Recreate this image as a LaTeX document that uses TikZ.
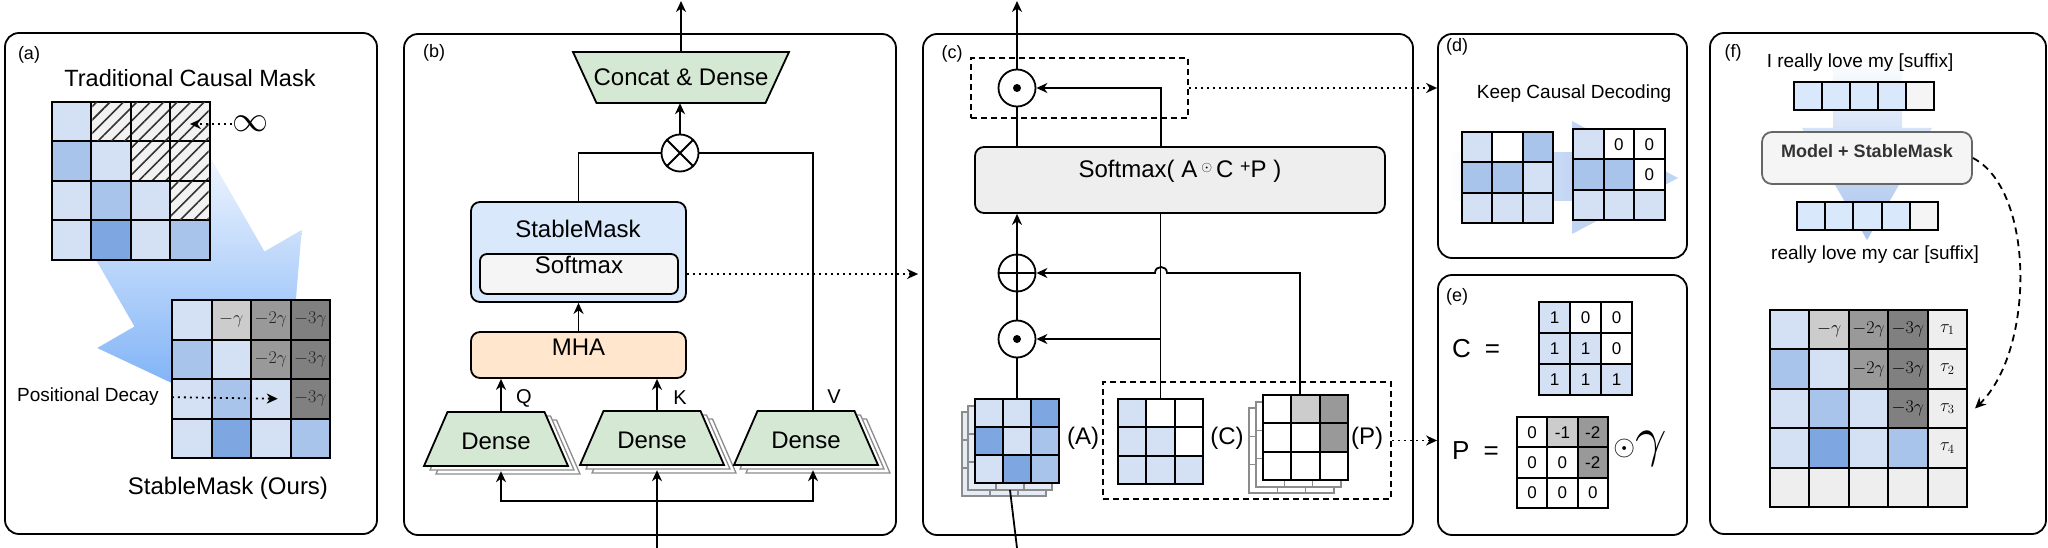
\RequirePackage{fix-cm}
\documentclass[tikz,border=0pt]{standalone}
\usepackage[no-math]{fontspec}
\setmainfont{Liberation Sans}
\usetikzlibrary{arrows.meta,shapes.geometric,fit,patterns.meta,calc}

\definecolor{lbc}{HTML}{D4E1F5}
\definecolor{mbc}{HTML}{A9C4EB}
\definecolor{dbc}{HTML}{7EA6E0}
\definecolor{gaa}{HTML}{CCCCCC}
\definecolor{gbb}{HTML}{999999}
\definecolor{gcc}{HTML}{808080}
\definecolor{lgc}{HTML}{EEEEEE}
\definecolor{tokc}{HTML}{DAE8FC}
\definecolor{tokg}{HTML}{F5F5F5}
\definecolor{grc}{HTML}{D5E8D4}
\definecolor{orc}{HTML}{FFE6CC}
\definecolor{smc}{HTML}{DAE8FC}
\definecolor{sfc}{HTML}{F5F5F5}
\definecolor{sxc}{HTML}{EEEEEE}
\definecolor{hbg}{HTML}{F2F2F2}
\definecolor{hln}{HTML}{333333}
\definecolor{arrA}{RGB}{105,165,245}
\definecolor{arrD}{RGB}{192,212,243}
\definecolor{arrFa}{RGB}{214,227,247}
\definecolor{arrFb}{RGB}{170,196,236}
\definecolor{shgc}{HTML}{8C8C8C}
\definecolor{shfc}{HTML}{E6ECF6}

\newcommand\fsz[1]{\fontsize{#1}{#1}\selectfont}
\newcommand\cellgrid[6][cellbox]{%
  \foreach \ri/\ci/\fc/\tx in {#6}{%
    \node[#1, minimum width=#5pt, minimum height=#5pt, fill=\fc] (#2-\ri-\ci) at ({#3+(\ci+0.5)*#5},{#4+(\ri+0.5)*#5}) {\tx};
  }}
% trapezoid outline: #1 style, #2 cx, #3 cy, #4 bottom width, #5 top width, #6 height
\newcommand\trapz[6]{%
  \path[#1] ({#2-#4/2},{#3+#6/2}) -- ({#2-#5/2},{#3-#6/2}) -- ({#2+#5/2},{#3-#6/2}) -- ({#2+#4/2},{#3+#6/2}) -- cycle;}

\tikzset{
  cellbox/.style={draw, line width=2pt, inner sep=0, outer sep=0, font=\fsz{18}},
  shcell/.style={draw=shgc, line width=1.3pt, inner sep=0, outer sep=0},
  panel/.style={draw, line width=1.8pt, rounded corners=14pt, inner sep=0},
  conn/.style={line width=1.8pt},
  arr/.style={conn, -{Stealth[length=11pt,width=10pt,inset=3.5pt]}},
  dotarr/.style={line width=1.8pt, dash pattern=on 2pt off 4pt, -{Stealth[length=11pt,width=10pt,inset=3.5pt]}},
  dasharr/.style={line width=1.8pt, dash pattern=on 7pt off 5pt, -{Stealth[length=11pt,width=10pt,inset=3.5pt]}},
  dbox/.style={draw, line width=1.6pt, dash pattern=on 6pt off 4pt, inner sep=0},
  rbox/.style={draw, line width=1.8pt, rounded corners=9pt, inner sep=0, font=\fsz{24}},
  lbl/.style={inner sep=0, font=\fsz{24}},
  plabel/.style={inner sep=0, font=\fsz{18}},
  opc/.style={circle, draw, line width=1.8pt, minimum size=37pt, inner sep=0, fill=white},
  trapst/.style={draw, line width=1.8pt, fill=grc, line join=miter},
  trapsh/.style={draw=shgc, line width=1.3pt, fill=white},
  densel/.style={lbl, minimum width=144pt, minimum height=54pt},
}

\begin{document}
\begin{tikzpicture}[x=1pt,y=-1pt]
\useasboundingbox (0,0) rectangle (2048,548);
\fill[white] (0,0) rectangle (2048,548);

% ---------------- panels
\node[panel, fit={(5,33) (377,534)}] (panA) {};
\node[panel, fit={(404,34) (896,535)}] (panB) {};
\node[panel, fit={(923,34) (1413,535)}] (panC) {};
\node[panel, fit={(1438,34) (1687,258)}] (panD) {};
\node[panel, fit={(1438,275) (1687,535)}] (panE) {};
\node[panel, fit={(1710,33) (2046,534)}] (panF) {};

% ---------------- (a)
\node[plabel] (la) at (29,55) {(a)};
\node[lbl, font=\fsz{23.5}] (ta) at (190,78) {Traditional Causal Mask};
\shade[shading angle=30, top color=white, bottom color=arrA]
  (59.5,196.5) -- (134.5,326.5) -- (97.3,348) -- (284.5,436) -- (301.7,230) -- (264.5,251.5) -- (189.5,121.5) -- cycle;
\cellgrid{tl}{52}{102}{39.4}{0/0/lbc/{},0/1/hbg/{},0/2/hbg/{},0/3/hbg/{},1/0/mbc/{},1/1/lbc/{},1/2/hbg/{},1/3/hbg/{},2/0/lbc/{},2/1/mbc/{},2/2/lbc/{},2/3/hbg/{},3/0/lbc/{},3/1/dbc/{},3/2/lbc/{},3/3/mbc/{}}
\foreach \ri/\ci in {0/1,0/2,0/3,1/2,1/3,2/3}{
  \fill[pattern={Lines[angle=45,distance=9.5pt,line width=1.6pt]}, pattern color=hln]
    ([shift={(1pt,-1pt)}]tl-\ri-\ci.north west) rectangle ([shift={(-1pt,1pt)}]tl-\ri-\ci.south east);
}
\node[inner sep=0] (inf) at (250,124) {\fsz{36}$\infty$};
\draw[dotarr] (inf.west) -- (inf.west -| tl-0-3.center);
\cellgrid[cellbox,text=black!85]{bl}{172}{300}{39.5}{0/0/lbc/{},0/1/gaa/{$-\gamma$},0/2/gbb/{$-2\gamma$},0/3/gcc/{$-3\gamma$},1/0/mbc/{},1/1/lbc/{},1/2/gbb/{$-2\gamma$},1/3/gcc/{$-3\gamma$},2/0/lbc/{},2/1/mbc/{},2/2/lbc/{},2/3/gcc/{$-3\gamma$},3/0/lbc/{},3/1/dbc/{},3/2/lbc/{},3/3/mbc/{}}
\node[lbl, font=\fsz{19}] (posd) at (88,397) {Positional Decay};
\draw[dotarr, shorten <=13pt] (posd.east) -- ([xshift=7pt]bl-2-2.center);
\node[lbl] (sma) at (228,488) {StableMask (Ours)};

% ---------------- (b)
\node[plabel] (lb) at (434,53) {(b)};
\trapz{trapst}{681}{77.5}{169}{216}{51}
\node[lbl, minimum width=216pt, minimum height=51pt] (cd) at (681,77.5) {Concat \& Dense};
\node[opc] (ot) at (680,153) {};
\draw[conn] (ot.north west) -- (ot.south east) (ot.north east) -- (ot.south west);
\coordinate (outb) at (681,1);
\draw[arr] (cd.north) -- (outb);
\draw[arr] (ot.north) -- (ot.north |- cd.south);

\node[rbox, fill=smc, fit={(471,202) (686,302)}] (smb) {};
\node[lbl] (smt) at (578,229) {StableMask};
\node[rbox, fill=sfc, rounded corners=7pt, fit={(480,254) (678,294)}] (sfx) {Softmax};
\node[rbox, fill=orc, fit={(471,332) (686,378)}] (mha) {MHA};

\coordinate (qx) at (501,0);
\coordinate (kx) at (657,0);
\coordinate (vx) at (813,0);
\foreach \cx/\cy in {496/439,652/438,806/438}{
  \trapz{trapsh}{\cx+12}{\cy+8}{144}{97}{54}
  \trapz{trapsh}{\cx+6}{\cy+4}{144}{97}{54}
  \trapz{trapst}{\cx}{\cy}{144}{97}{54}
}
\node[densel] (dq) at (496,441) {Dense};
\node[densel] (dk) at (652,440) {Dense};
\node[densel] (dv) at (806,440) {Dense};

\draw[arr] (mha.north) -- (smb.south);
\draw[conn] (smb.north) |- (ot.west);
\draw[conn] ($(dv.north -| vx)+(0,-2)$) |- (ot.east);
\draw[arr] ($(dq.north -| qx)+(0,-2)$) -- (mha.south -| qx);
\draw[arr] ($(dk.north -| kx)+(0,-2)$) -- (mha.south -| kx);
\node[lbl, font=\fsz{20}] (lq) at (524,398) {Q};
\node[lbl, font=\fsz{20}] (lk) at (680,398) {K};
\node[lbl, font=\fsz{20}] (lv) at (834,397) {V};
\coordinate (inb) at (657,548);
\coordinate (spb) at (657,501);
\draw[arr] (inb) -- ($(dk.south -| kx)+(0,3)$);
\draw[arr] (spb) -| ($(dq.south -| qx)+(0,3)$);
\draw[arr] (spb) -| ($(dv.south -| vx)+(0,3)$);
\draw[dotarr, shorten >=4pt] (sfx.east -| smb.east) -- (sfx.east -| panC.west);

% ---------------- (c)
\node[plabel] (lc) at (952,54) {(c)};
\node[dbox, fit={(971,58) (1188,118)}] (dbt) {};
\node[opc] (odt) at (1017,88) {};
\fill (odt.center) circle[radius=4pt];
\node[rbox, fill=sxc, fit={(975,147) (1385,213)}] (sx)
  {Softmax(\ A\,\raisebox{6pt}{\fsz{14}$\odot$}\,C\ \raisebox{5pt}{\fsz{18}+}P\ )};
\node[opc] (opl) at (1017,273) {};
\draw[conn] (opl.north) -- (opl.south) (opl.west) -- (opl.east);
\node[opc] (odl) at (1017,339) {};
\fill (odl.center) circle[radius=4pt];

\coordinate (outc) at (1017,1);
\coordinate (cx) at (1161,0);
\coordinate (px) at (1300,0);
\draw[arr] (odt.north) -- (outc);
\draw[conn] (sx.north -| odt) -- (odt.south);
\draw[arr] (sx.north -| cx) |- (odt.east);
\draw[arr] (opl.north) -- (sx.south -| opl);
\draw[conn] (odl.north) -- (opl.south);

% A grid with stacked copies
\cellgrid[shcell]{asb}{962}{412}{28}{0/0/shfc/{},0/1/shfc/{},0/2/shfc/{},1/0/shfc/{},1/1/shfc/{},1/2/shfc/{},2/0/shfc/{},2/1/shfc/{},2/2/shfc/{}}
\cellgrid[shcell]{asa}{968}{406}{28}{0/0/shfc/{},0/1/shfc/{},0/2/shfc/{},1/0/shfc/{},1/1/shfc/{},1/2/shfc/{},2/0/shfc/{},2/1/shfc/{},2/2/shfc/{}}
\coordinate (inc) at (1017,548);
\draw[conn] (inc) -- (asa-2-1.south);
\cellgrid{ag}{975}{399}{28}{0/0/lbc/{},0/1/lbc/{},0/2/dbc/{},1/0/dbc/{},1/1/lbc/{},1/2/mbc/{},2/0/lbc/{},2/1/dbc/{},2/2/mbc/{}}
\draw[conn] (ag-0-1.north) -- (odl.south);

\cellgrid{cg}{1118}{399}{28.3}{0/0/lbc/{},0/1/white/{},0/2/white/{},1/0/lbc/{},1/1/lbc/{},1/2/white/{},2/0/lbc/{},2/1/lbc/{},2/2/lbc/{}}
\draw[conn] (cg-0-1.north) -- (sx.south -| cg-0-1.north);
\draw[arr] (odl.east -| cg-0-1) -- (odl.east);

\cellgrid[shcell]{psb}{1249}{408}{28.3}{0/0/white/{},0/1/white/{},0/2/white/{},1/0/white/{},1/1/white/{},1/2/white/{},2/0/white/{},2/1/white/{},2/2/white/{}}
\cellgrid[shcell]{psa}{1256}{402}{28.3}{0/0/white/{},0/1/white/{},0/2/white/{},1/0/white/{},1/1/white/{},1/2/white/{},2/0/white/{},2/1/white/{},2/2/white/{}}
\cellgrid{pg}{1263}{395}{28.3}{0/0/white/{},0/1/gaa/{},0/2/gbb/{},1/0/white/{},1/1/white/{},1/2/gbb/{},2/0/white/{},2/1/white/{},2/2/white/{}}
\draw[arr] (pg-0-1.north -| px) -- (opl.east -| px) -- ($(opl.east -| cx)+(6,0)$)
  .. controls ($(opl.east -| cx)+(6,-8)$) and ($(opl.east -| cx)+(-6,-8)$) .. ($(opl.east -| cx)+(-6,0)$)
  -- (opl.east);

\node[lbl] (la2) at (1083,438) {(A)};
\node[lbl] (lc2) at (1227,438) {(C)};
\node[lbl] (lp2) at (1367,438) {(P)};
\node[dbox, fit={(1103,382) (1391,499)}] (dbb) {};

\draw[dotarr] (dbt.east) -- (dbt.east -| panD.west);
\draw[dotarr] (dbb.east) -- (dbb.east -| panE.west);

% ---------------- (d)
\node[plabel] (ld) at (1457,47) {(d)};
\node[lbl, font=\fsz{19}] (kcd) at (1574,94) {Keep Causal Decoding};
\shade[left color=white, right color=arrD] (1448,153) rectangle (1574,201);
\fill[arrD] (1572,121) -- (1678,178) -- (1572,234) -- cycle;
\cellgrid{dga}{1462}{132}{30.3}{0/0/lbc/{},0/1/white/{},0/2/mbc/{},1/0/mbc/{},1/1/mbc/{},1/2/lbc/{},2/0/lbc/{},2/1/lbc/{},2/2/lbc/{}}
\cellgrid[cellbox,font=\fsz{17}]{dgb}{1573}{129}{30.5}{0/0/lbc/{},0/1/white/0,0/2/white/0,1/0/mbc/{},1/1/mbc/{},1/2/white/0,2/0/lbc/{},2/1/lbc/{},2/2/lbc/{}}

% ---------------- (e)
\node[plabel] (le) at (1457,297) {(e)};
\node[lbl, font=\fsz{26}, anchor=west] (ceq) at (1452,349) {C\hspace{14pt}=};
\cellgrid[cellbox,font=\fsz{17}]{ecg}{1539}{302}{31}{0/0/lbc/1,0/1/white/0,0/2/white/0,1/0/lbc/1,1/1/lbc/1,1/2/white/0,2/0/lbc/1,2/1/lbc/1,2/2/lbc/1}
\node[lbl, font=\fsz{26}, anchor=west] (peq) at (1452,451) {P\hspace{14pt}=};
\cellgrid[cellbox,font=\fsz{17}]{epg}{1517}{417}{30.3}{0/0/white/0,0/1/gaa/-1,0/2/gbb/-2,1/0/white/0,1/1/white/0,1/2/gbb/-2,2/0/white/0,2/1/white/0,2/2/white/0}
\node[inner sep=0] (odg) at (1640,449) {\fsz{28}$\odot$\fsz{56}$\gamma$};

% ---------------- (f)
\node[plabel] (lf) at (1733,53) {(f)};
\shade[top color=white, bottom color=arrFa] (1833,58) rectangle (1902,129);
\shade[top color=arrFa, bottom color=arrFb] (1802,128) -- (1932,128) -- (1867,240) -- cycle;
\node[lbl, font=\fsz{19}] (t1) at (1860,63) {I really love my [suffix]};
\cellgrid{tka}{1794}{82}{28}{0/0/tokc/{},0/1/tokc/{},0/2/tokc/{},0/3/tokc/{},0/4/tokg/{}}
\node[draw=black!60, fill=tokg, line width=1.8pt, rounded corners=10pt, inner sep=0, fit={(1762,132) (1972,184)},
  font=\fsz{18}\bfseries, text=black!80] (msm) {Model + StableMask};
\cellgrid{tkb}{1797}{202}{28.2}{0/0/tokc/{},0/1/tokc/{},0/2/tokc/{},0/3/tokc/{},0/4/tokg/{}}
\node[lbl, font=\fsz{19}] (t2) at (1875,255) {really love my car [suffix]};
\cellgrid{fg}{1770}{310}{39.4}{0/0/lbc/{},0/1/gaa/{$-\gamma$},0/2/gbb/{$-2\gamma$},0/3/gcc/{$-3\gamma$},0/4/lgc/{$\tau_1$},1/0/mbc/{},1/1/lbc/{},1/2/gbb/{$-2\gamma$},1/3/gcc/{$-3\gamma$},1/4/lgc/{$\tau_2$},2/0/lbc/{},2/1/mbc/{},2/2/lbc/{},2/3/gcc/{$-3\gamma$},2/4/lgc/{$\tau_3$},3/0/lbc/{},3/1/dbc/{},3/2/lbc/{},3/3/mbc/{},3/4/lgc/{$\tau_4$},4/0/lgc/{},4/1/lgc/{},4/2/lgc/{},4/3/lgc/{},4/4/lgc/{}}
\draw[dasharr] (msm.east) .. controls (2035,190) and (2035,350) .. ([xshift=8pt]fg-2-4.east);
\end{tikzpicture}
\end{document}
